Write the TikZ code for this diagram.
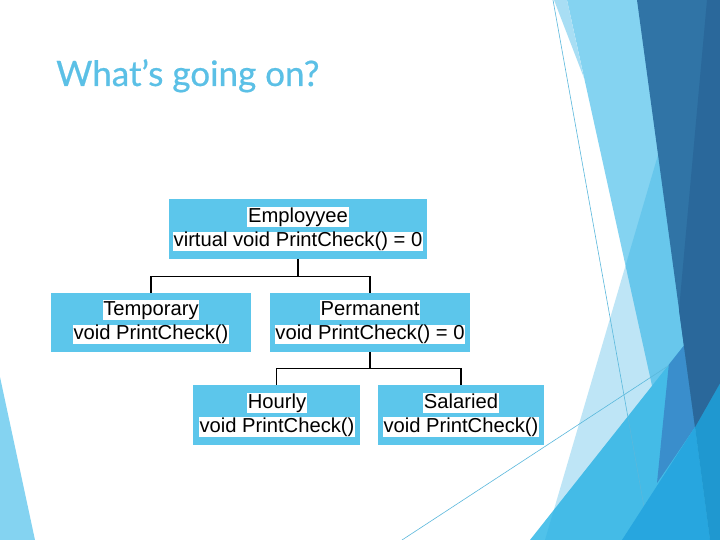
\documentclass[tikz,border=0pt]{standalone}
\usepackage{fontspec}
\setmainfont{Liberation Sans}
\newfontfamily\titlefont[FakeBold=0.6]{Lato}
\definecolor{boxblue}{HTML}{5CC6EB}
\definecolor{titleblue}{HTML}{5BC0E6}
\definecolor{facetL}{HTML}{84D3F1}
\definecolor{facetT}{HTML}{2AACE2}
\definecolor{facetB}{HTML}{50C2EA}
\definecolor{paleStrip}{HTML}{A8DEF4}
\definecolor{darkA}{HTML}{3074A6}
\definecolor{darkB}{HTML}{2A689B}
\definecolor{wedge}{HTML}{3A8ECC}
\definecolor{brightA}{HTML}{27A6DF}
\definecolor{brightB}{HTML}{1F98D0}
\definecolor{thinline}{HTML}{5AB8DC}
\tikzset{
  umlbox/.style={draw=none, fill=boxblue, minimum width=#1, minimum height=60pt, inner sep=0pt},
  txtline/.style={fill=white, inner xsep=0.6pt, inner ysep=0.5pt, text height=14.5pt, text depth=4.3pt, font=\fontsize{20.2}{24}\selectfont},
  conn/.style={draw=black, line width=1.4pt},
  facetline/.style={draw=thinline, line width=0.6pt}
}
\begin{document}
\begin{tikzpicture}[x=1pt,y=-1pt]
\useasboundingbox (0,0) rectangle (720,540);
\fill[white] (0,0) rectangle (720,540);
% left facet
\fill[facetL] (0,377) -- (35,540) -- (0,540) -- cycle;
% right facets
\fill[facetL] (567,0) -- (640,0) -- (720,540) -- (686,540) -- cycle;
\fill[paleStrip] (554,0) -- (567,0) -- (584,78) -- cycle;
\fill[facetB] (530,540) -- (720,300) -- (720,540) -- cycle;
\fill[facetT, opacity=0.3] (658,155) -- (720,155) -- (720,540) -- (545,540) -- cycle;
\draw[facetline] (553,0) -- (650,540);
\draw[facetline] (402,540) -- (720,332);
\fill[wedge] (668.8,364.7) -- (684,345.5) -- (695,427) -- (657,483) -- cycle;
\fill[brightA] (695,427) -- (710,540) -- (622,540) -- cycle;
\fill[brightB] (695,427) -- (720,383) -- (720,540) -- (710,540) -- cycle;
\fill[darkA] (637,0) -- (720,0) -- (720,383) -- (695,427) -- cycle;
\fill[darkB] (707,0) -- (720,0) -- (720,383) -- (695,427) -- (679,310) -- cycle;
% title
\node[anchor=base west, inner sep=0pt, text=titleblue, font=\titlefont\fontsize{35}{42}\selectfont] (title) at (56,86) {What’s going on?};
% boxes
\node[umlbox=258pt] (emp) at (298,229) {};
\node[umlbox=200pt, minimum height=59pt] (temp) at (151,322.5) {};
\node[umlbox=200pt, minimum height=59pt] (perm) at (370,322.5) {};
\node[umlbox=167pt] (hour) at (276.5,415) {};
\node[umlbox=166pt] (sal) at (461,415) {};
% texts
\node[txtline] (empA) at (298,217) {Employyee};
\node[txtline] (empB) at (298,241.5) {virtual void PrintCheck() = 0};
\node[txtline] (tempA) at (151,310) {Temporary};
\node[txtline] (tempB) at (151,334.5) {void PrintCheck()};
\node[txtline] (permA) at (370,310) {Permanent};
\node[txtline] (permB) at (370,334.5) {void PrintCheck() = 0};
\node[txtline] (hourA) at (277,403) {Hourly};
\node[txtline] (hourB) at (277,427) {void PrintCheck()};
\node[txtline] (salA) at (461,403) {Salaried};
\node[txtline] (salB) at (461,427) {void PrintCheck()};
% connectors
\draw[conn] (emp.south) -- ++(0,17) coordinate (j1);
\draw[conn] (temp.north) |- (j1) -| (perm.north);
\draw[conn] (perm.south) -- ++(0,16) coordinate (j2);
\draw[conn] (hour.north) |- (j2) -| (sal.north);
\end{tikzpicture}
\end{document}
